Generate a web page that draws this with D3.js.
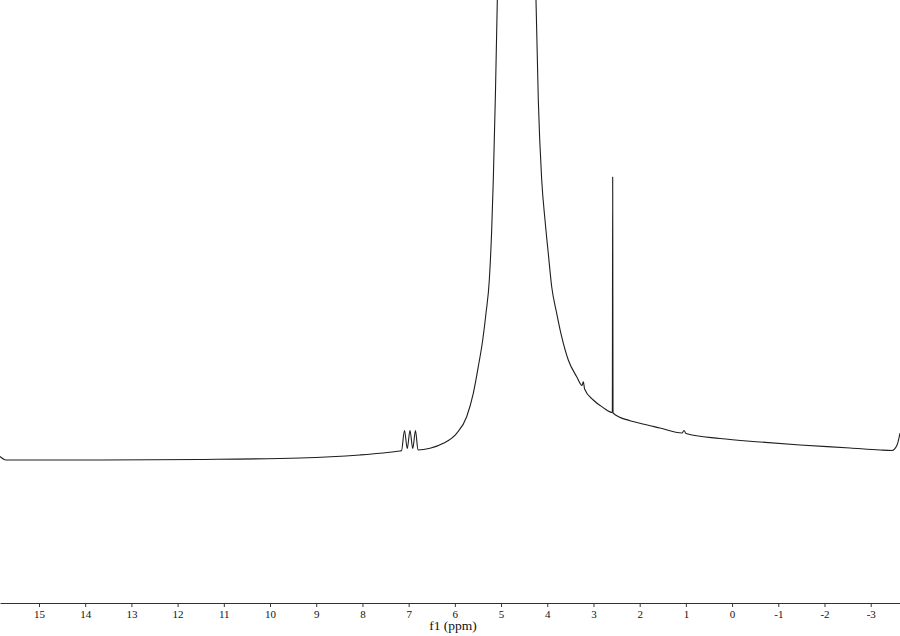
<!DOCTYPE html>
<html lang="en">
  <head>
    <meta charset="utf-8">
    <title>1H NMR spectrum</title>
    <script type="text/javascript" src="https://d3js.org/d3.v7.min.js"></script>
    <style>
      body { margin: 0; background: #fff; }
      .axis path, .axis line { stroke: #333; }
    </style>
  </head>
  <body>
    <svg class="spectrum"></svg>
  </body>

  <script>
    //Constants
    const width = 900;
    const height = 636;
    const axisY = 603;
    const serif = "'Liberation Serif', 'DejaVu Serif', serif";

    //chemical shift (ppm), read left to right off the picture
    const shifts = [15.844, 15.714, 13.680, 11.516, 9.351, 8.053, 7.620, 7.187, 7.155,
                    7.090, 7.030, 6.971, 6.911, 6.852, 6.798, 6.538, 6.250, 5.960,
                    5.744, 5.601, 5.493, 5.397, 5.326, 5.254, 5.203, 5.168, 5.120, 5.081, 5.045,
                    4.664,
                    4.280, 4.244, 4.194, 4.120, 4.049, 3.978, 3.904, 3.796, 3.688, 3.545, 3.363,
                    3.248, 3.220, 3.192, 3.004, 2.787, 2.592, 2.584, 2.577,
                    2.210, 1.994, 1.561, 1.084, 1.041, 0.997, 0.261, -0.605,
                    -1.471, -2.553, -3.202, -3.462, -3.570, -3.634];

    //intensity (arbitrary units, baseline ~0, plot top = 100)
    const intensity = [0.76, 0.0, 0.0, 0.11, 0.43, 1.09, 1.45, 1.96, 2.0,
                       6.41, 2.5, 6.41, 2.5, 6.41, 2.17, 2.54, 3.63, 5.80,
                       9.41, 14.5, 20.28, 26.09, 31.89, 39.13, 50.0, 60.87, 80.4, 100, 122,
                       500,
                       122, 100, 78.3, 60.87, 52.17, 44.93, 37.67, 31.89, 26.8, 21.74, 18.11,
                       16.2, 17.02, 15.43, 13.04, 11.37, 10.33, 61.5, 10.22,
                       8.54, 7.98, 6.96, 5.87, 6.41, 5.76, 4.67, 3.91,
                       3.26, 2.61, 2.17, 2.07, 3.26, 5.87];

    const tickValues = [15, 14, 13, 12, 11, 10, 9, 8, 7, 6, 5, 4, 3, 2, 1, 0, -1, -2, -3];
    const axisTitle = "f1 (ppm)";

    var svg = d3.select(".spectrum")
      .attr("width", width)
      .attr("height", height);

    //ppm runs right to left, as usual for NMR
    var x = d3.scaleLinear()
      .domain([15.844, -3.634])
      .range([0, width]);

    var y = d3.scaleLinear()
      .domain([-31.2, 100])
      .range([axisY + 0.5, 0]);

    svg.append("defs").append("clipPath")
        .attr("id", "plotClip")
      .append("rect")
        .attr("x", 0)
        .attr("y", 0)
        .attr("width", width)
        .attr("height", axisY);

    var points = shifts.map((s, i) => [s, intensity[i]]);

    var line = d3.line()
      .x(d => x(d[0]))
      .y(d => y(d[1]))
      .curve(d3.curveMonotoneX);

    svg.append("path")
      .datum(points)
      .attr("clip-path", "url(#plotClip)")
      .attr("fill", "none")
      .attr("stroke", "#1e1e1e")
      .attr("stroke-width", 1.1)
      .attr("stroke-linejoin", "round")
      .attr("d", line);

    //ppm axis
    var xAxis = d3.axisBottom(x)
      .tickValues(tickValues)
      .tickFormat(d => String(d))
      .tickSize(4)
      .tickSizeOuter(0)
      .tickPadding(3);

    var axisG = svg.append("g")
      .attr("class", "axis")
      .attr("transform", "translate(0," + axisY + ")")
      .call(xAxis)
      .attr("font-family", serif)
      .attr("font-size", 11);
    axisG.selectAll("text")
      .attr("font-family", serif)
      .attr("fill", "#111");

    svg.append("text")
      .attr("x", 453)
      .attr("y", 630)
      .attr("text-anchor", "middle")
      .attr("font-family", serif)
      .attr("font-size", 13.5)
      .attr("fill", "#111")
      .text(axisTitle);
  </script>
</html>
